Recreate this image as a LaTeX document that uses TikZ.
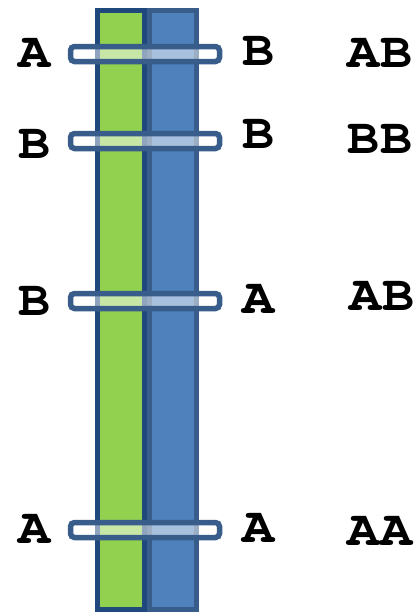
\documentclass[tikz,border=0pt]{standalone}
\usepackage{fontspec}
\newfontfamily\courfont{TeX Gyre Cursor}[FakeStretch=1.07]
\begin{document}
\begin{tikzpicture}[x=1pt,y=-1pt,
  greenbar/.style={fill={rgb,255:red,146;green,208;blue,80}, draw={rgb,255:red,31;green,73;blue,125}, line width=5pt},
  bluebar/.style={fill={rgb,255:red,79;green,129;blue,189}, draw={rgb,255:red,56;green,93;blue,138}, line width=5pt},
  band/.style={fill=white, fill opacity=0.5, draw={rgb,255:red,56;green,93;blue,138}, draw opacity=1, line width=5.5pt, rounded corners=4pt},
  lbl/.style={font=\courfont\bfseries\fontsize{50}{50}\selectfont, inner sep=0pt, anchor=base}]
\useasboundingbox (0,0) rectangle (415,613);
\draw[greenbar] (97.5,10) rectangle (144.5,609.5);
\draw[bluebar] (149.5,10) rectangle (196.5,609.5);
\foreach \y in {54,141,301,530}{
  \draw[band] (70.5,\y-7.5) rectangle (219.5,\y+7.5);
}
\node[lbl] (l1) at (35,67) {A};
\node[lbl] (r1) at (259,65) {B};
\node[lbl] (g1) at (380,67) {AB};
\node[lbl] (l2) at (35,158) {B};
\node[lbl] (r2) at (259,148) {B};
\node[lbl] (g2) at (380,153) {BB};
\node[lbl] (l3) at (35,315) {B};
\node[lbl] (r3) at (259,313) {A};
\node[lbl] (g3) at (382,310) {AB};
\node[lbl] (l4) at (35,543) {A};
\node[lbl] (r4) at (259,542) {A};
\node[lbl] (g4) at (380,545) {AA};
\end{tikzpicture}
\end{document}
